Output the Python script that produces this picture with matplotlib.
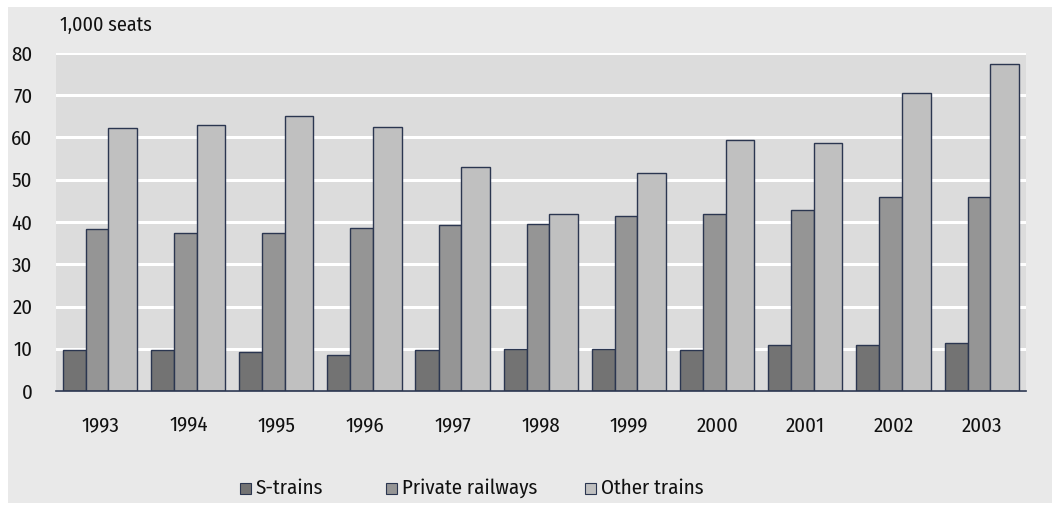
import matplotlib
matplotlib.use("Agg")
import matplotlib.pyplot as plt
from matplotlib.patches import Rectangle
import numpy as np

years = ["1993", "1994", "1995", "1996", "1997", "1998", "1999", "2000", "2001", "2002", "2003"]
s_trains = [9.8, 9.6, 9.3, 8.5, 9.7, 9.9, 10.0, 9.8, 10.9, 10.9, 11.3]
private_railways = [38.3, 37.3, 37.3, 38.5, 39.4, 39.5, 41.4, 41.8, 42.8, 45.8, 45.9]
other_trains = [62.2, 62.9, 65.1, 62.6, 52.9, 41.8, 51.7, 59.3, 58.8, 70.6, 77.5]
series_names = ["S-trains", "Private railways", "Other trains"]
y_ticks = [0, 10, 20, 30, 40, 50, 60, 70, 80]
unit_label = "1,000 seats"

plt.rcParams['font.family'] = ['Fira Sans Condensed', 'PT Sans Narrow', 'DejaVu Sans']
FS = 15

W, H = 1052, 508
fig = plt.figure(figsize=(W / 100, H / 100), dpi=100)
fig.patch.set_facecolor("white")

# grey panel
fig.patches.append(Rectangle((8 / W, 1 - 503 / H), (W - 8) / W, (503 - 7) / H,
                             transform=fig.transFigure, facecolor="#e9e9e9",
                             edgecolor="none", zorder=0))

ax = fig.add_axes([56 / W, 1 - 391 / H, (1026 - 56) / W, (391 - 53) / H])
ax.set_facecolor("#dcdcdc")
ax.set_zorder(1)

x = np.arange(len(years))
edge = "#2b3650"
ax.bar(x - 0.424, s_trains, width=0.262, align="edge", color="#737373",
       edgecolor=edge, linewidth=1.0, zorder=3)
ax.bar(x - 0.162, private_railways, width=0.256, align="edge", color="#959595",
       edgecolor=edge, linewidth=1.0, zorder=3)
ax.bar(x + 0.094, other_trains, width=0.325, align="edge", color="#c0c0c0",
       edgecolor=edge, linewidth=1.0, zorder=3)

ax.set_xlim(-0.5, len(years) - 0.5)
ax.set_ylim(0, 80)
ax.set_yticks(y_ticks)
ax.set_yticklabels([str(v) for v in y_ticks], fontsize=FS)
ax.set_xticks(x)
ax.set_xticklabels(years, fontsize=FS)
ax.tick_params(axis="both", length=0, colors="#111111")
ax.tick_params(axis="y", pad=17)
ax.tick_params(axis="x", pad=18)
for lab in ax.get_yticklabels():
    lab.set_horizontalalignment("right")

ax.yaxis.grid(True, color="white", linewidth=2.2, zorder=1)
ax.set_axisbelow(True)
for side in ["top", "right", "left"]:
    ax.spines[side].set_visible(False)
ax.spines["bottom"].set_color(edge)
ax.spines["bottom"].set_linewidth(1.2)
ax.spines["bottom"].set_zorder(4)

fig.text(60 / W, 1 - 25 / H, unit_label, fontsize=FS - 0.5, ha="left", va="center",
         color="#111111")

# legend
leg_x = [240, 386, 585]
leg_colors = ["#737373", "#959595", "#c0c0c0"]
for lx, name, c in zip(leg_x, series_names, leg_colors):
    fig.patches.append(Rectangle((lx / W, 1 - 494 / H), 11 / W, 11 / H,
                                 transform=fig.transFigure, facecolor=c,
                                 edgecolor=edge, linewidth=0.8, zorder=2))
    fig.text((lx + 16) / W, 1 - 488 / H, name, fontsize=FS, ha="left",
             va="center", color="#111111")

fig.savefig("out.png", dpi=100)
